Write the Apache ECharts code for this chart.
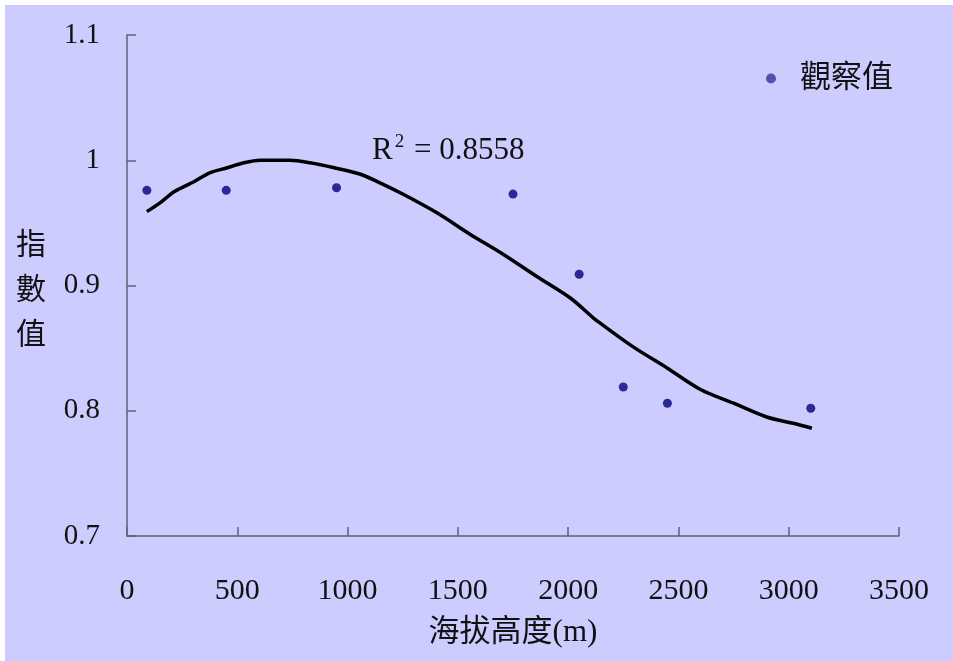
<!DOCTYPE html>
<html>
<head>
<meta charset="utf-8">
<script src="https://cdn.jsdelivr.net/npm/echarts@6/dist/echarts.min.js"></script>
<style>
  html, body { margin: 0; padding: 0; background: #fff; }
  #chart { width: 953px; height: 661px; background: #ccccff; box-shadow: inset 5px 5px 0 #fff; }
</style>
</head>
<body>
<div id="chart"></div>
<script>
// 觀察值
const obsAltitude = [90, 450, 950, 1750, 2050, 2250, 2450, 3100];
const obsIndex = [0.976, 0.976, 0.978, 0.973, 0.909, 0.819, 0.806, 0.802];

// 趨勢線 (R2 = 0.8558)
const fitAltitude = [90, 150, 215, 305, 375, 455, 530, 605, 740, 830, 940, 1055, 1135, 1250, 1405, 1555, 1705, 1860, 2010, 2115, 2145, 2295, 2450, 2600, 2750, 2900, 3020, 3105];
const fitIndex = [0.959, 0.966, 0.975, 0.983, 0.990, 0.994, 0.998, 1.0, 1.0, 0.998, 0.994, 0.989, 0.983, 0.973, 0.958, 0.941, 0.925, 0.907, 0.890, 0.874, 0.870, 0.851, 0.834, 0.817, 0.806, 0.795, 0.790, 0.786];

const fontFamily = '"Liberation Serif", "Noto Sans CJK TC", serif';

function renderChart() {
  const dom = document.getElementById('chart');
  const chart = echarts.init(dom);
  const axisColor = '#60607a';
  const option = {
    animation: false,
    backgroundColor: 'transparent',
    textStyle: { fontFamily: fontFamily },
    grid: {
      left: 127,
      right: 54,
      top: 35,
      bottom: 125
    },
    legend: {
      data: [{ name: '觀察值', icon: 'circle', itemStyle: { color: '#333399' } }],
      left: 761,
      top: 58,
      itemWidth: 10,
      itemHeight: 10,
      textStyle: { fontSize: 31, color: '#111', fontFamily: fontFamily, padding: [0, 0, 0, 19] }
    },
    xAxis: {
      type: 'value',
      min: 0,
      max: 3500,
      interval: 500,
      name: '海拔高度(m)',
      nameLocation: 'middle',
      nameGap: 81,
      nameTextStyle: { fontSize: 31, color: '#111', fontFamily: fontFamily },
      axisLine: { lineStyle: { color: axisColor, width: 1.5 } },
      axisTick: { inside: true, length: 9, lineStyle: { color: axisColor, width: 1.5 } },
      axisLabel: {
        fontSize: 30,
        color: '#111',
        margin: 40,
        fontFamily: fontFamily,
        formatter: (v) => String(v)
      },
      splitLine: { show: false }
    },
    yAxis: {
      type: 'value',
      min: 0.7,
      max: 1.1,
      interval: 0.1,
      axisLine: { show: true, lineStyle: { color: axisColor, width: 1.5 } },
      axisTick: { show: true, inside: true, length: 9, lineStyle: { color: axisColor, width: 1.5 } },
      axisLabel: { fontSize: 29, color: '#111', margin: 27, fontFamily: fontFamily },
      splitLine: { show: false }
    },
    graphic: [
      {
        type: 'text',
        left: 16,
        top: 224,
        style: {
          text: '指\n數\n值',
          fontSize: 30,
          lineHeight: 45,
          fill: '#111',
          fontFamily: fontFamily
        }
      },
      {
        type: 'text',
        left: 372,
        top: 133,
        style: {
          text: '{a|R}{s|2}{a| = 0.8558}',
          rich: {
            a: { fontSize: 31, fill: '#111', fontFamily: fontFamily, verticalAlign: 'bottom' },
            s: { fontSize: 19, fill: '#111', fontFamily: fontFamily, verticalAlign: 'top', padding: [0, 2, 14, 2] }
          }
        }
      }
    ],
    series: [
      {
        name: '趨勢線',
        type: 'line',
        data: fitAltitude.map((x, i) => [x, fitIndex[i]]),
        smooth: 0.3,
        showSymbol: false,
        lineStyle: { color: '#000', width: 3.5 },
        z: 2
      },
      {
        name: '觀察值',
        type: 'scatter',
        data: obsAltitude.map((x, i) => [x, obsIndex[i]]),
        symbolSize: 9,
        itemStyle: { color: '#000080' },
        z: 3
      }
    ]
  };
  chart.setOption(option, true);
}
renderChart();
</script>
</body>
</html>
